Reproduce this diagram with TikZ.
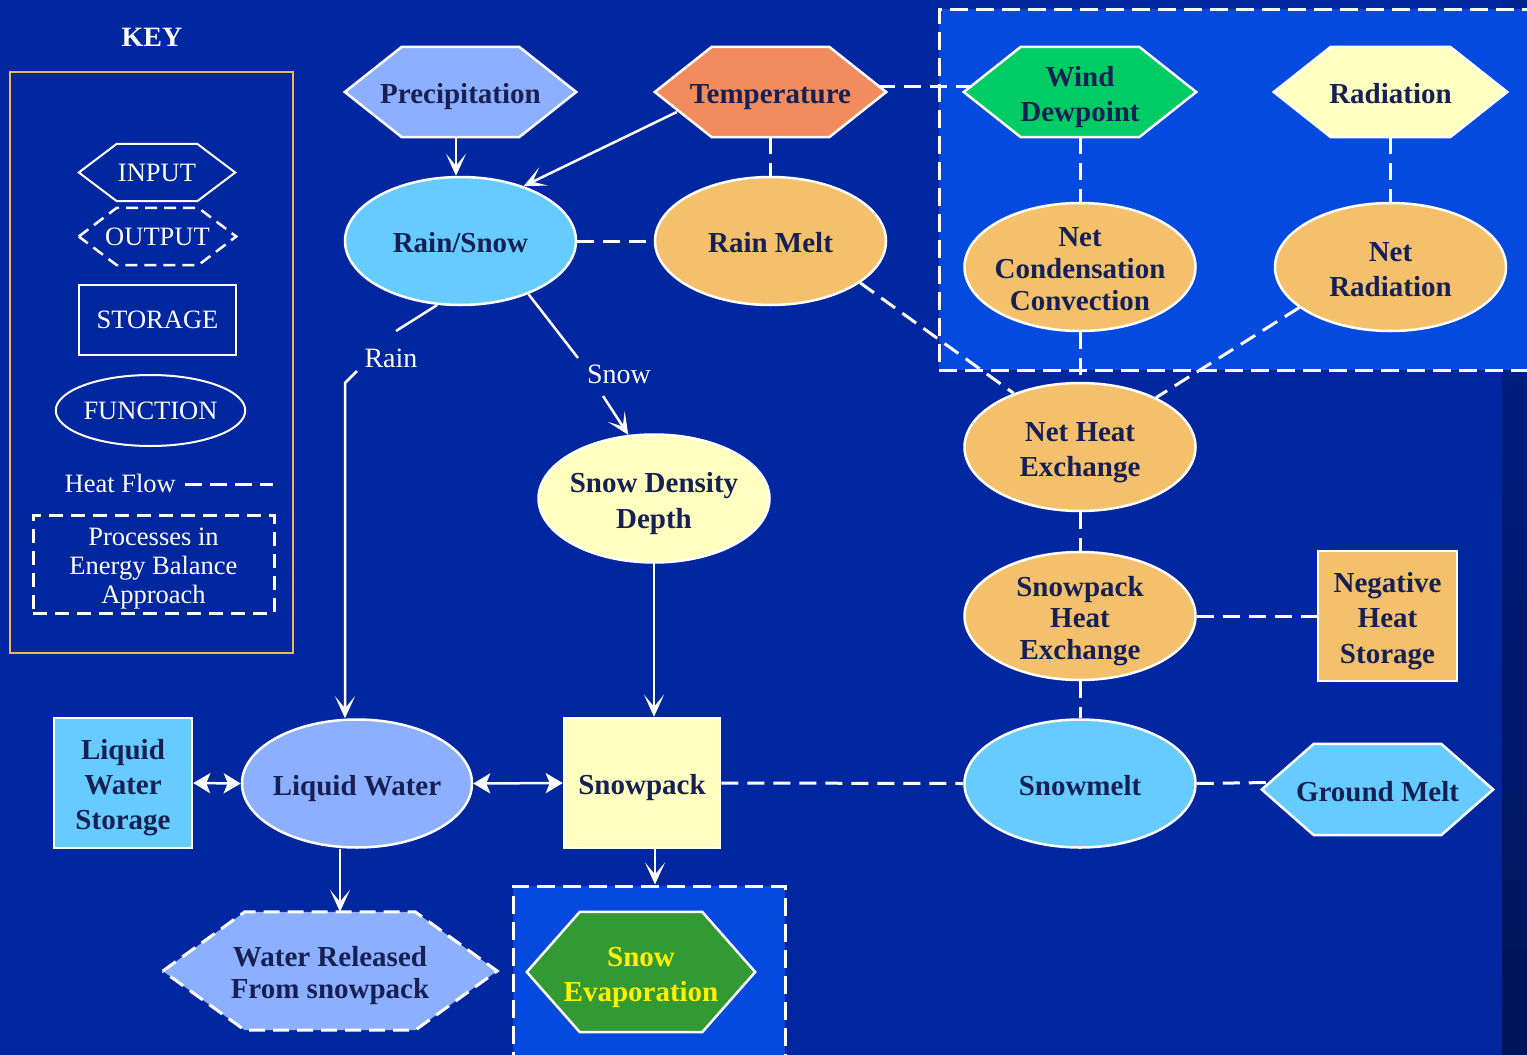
\documentclass[tikz,border=0pt]{standalone}
\usepackage{fontspec}
\setmainfont{Liberation Serif}
\usetikzlibrary{shapes.geometric,arrows.meta,calc}
\pgfdeclarelayer{bg}
\pgfdeclarelayer{mid}
\pgfsetlayers{bg,mid,main}
\definecolor{bgblue}{RGB}{0,38,160}
\definecolor{bright}{RGB}{4,74,222}
\definecolor{txt}{RGB}{22,32,84}
\definecolor{lblue}{RGB}{102,204,255}
\definecolor{periw}{RGB}{140,176,255}
\definecolor{orng}{RGB}{245,192,108}
\definecolor{salmon}{RGB}{242,140,94}
\definecolor{wgreen}{RGB}{0,204,102}
\definecolor{pyel}{RGB}{255,255,192}
\definecolor{dgreen}{RGB}{51,153,51}
\definecolor{keyline}{RGB}{245,180,96}
\definecolor{stripdark}{RGB}{0,20,90}
\newcommand\hexpath[3]{%
  \path[#3] (#1.west) -- ([xshift=#2pt]#1.north west) -- ([xshift=-#2pt]#1.north east)
    -- (#1.east) -- ([xshift=-#2pt]#1.south east) -- ([xshift=#2pt]#1.south west) -- cycle;}
\newcommand\Tx[1]{\rule{0pt}{31pt}#1\rule[-8pt]{0pt}{8pt}}
\tikzset{
  big/.style={font=\fontsize{29}{35}\selectfont\bfseries, text=txt, align=center},
  func/.style={big, ellipse, draw=white, line width=2.5pt, inner ysep=-12pt, inner xsep=-30pt,
    minimum width=231pt, minimum height=128pt},
  stor/.style={big, rectangle, draw=white, line width=2.5pt, inner sep=0pt},
  hexn/.style={big, rectangle, inner sep=0pt, minimum width=231pt, minimum height=90pt},
  hexline/.style={draw=white, line width=2.5pt},
  heat/.style={draw=white, line width=3pt, dash pattern=on 17pt off 9pt},
  arr/.style={draw=white, line width=2.5pt, -{Stealth[length=22pt,width=20pt,inset=12pt]}},
  darr/.style={draw=white, line width=2.5pt,
    {Stealth[length=17pt,width=20pt,inset=4pt]}-{Stealth[length=17pt,width=20pt,inset=4pt]}},
  keytxt/.style={font=\fontsize{26.5}{29}\selectfont, text=white, align=center},
  lbl/.style={font=\fontsize{28}{32}\selectfont, text=white},
  ebox/.style={fill=bright, draw=white, line width=3pt, dash pattern=on 18pt off 8pt,
    inner sep=0pt, rectangle},
}
\begin{document}
\begin{tikzpicture}[x=1pt,y=-1pt]
\useasboundingbox (0,0) rectangle (1527,1055);
\begin{pgfonlayer}{bg}
  \fill[bgblue] (0,0) rectangle (1527,1055);
  \shade[top color=bgblue!92!black, bottom color=stripdark] (1502,0) rectangle (1527,1055);
  \node[ebox, minimum width=601pt, minimum height=361pt] (topbox) at (1239.5,189.5) {};
  \node[ebox, minimum width=272pt, minimum height=174pt] (evbox) at (649,973) {};
\end{pgfonlayer}

% ---------- KEY ----------
\node[font=\fontsize{28}{32}\selectfont\bfseries, text=white] (key) at (152,37) {KEY};
\node[draw=keyline, line width=2pt, minimum width=283pt, minimum height=581pt, inner sep=0pt] (keybox) at (151.5,362.5) {};
\node[keytxt, minimum width=156pt, minimum height=57pt, inner sep=0pt] (kin) at (157,172.5) {INPUT};
\node[keytxt, minimum width=157pt, minimum height=57pt, inner sep=0pt] (kout) at (157.5,236.5) {OUTPUT};
\node[keytxt, draw=white, line width=2pt, minimum width=157pt, minimum height=70pt, inner sep=0pt] (kstor) at (157.5,320) {STORAGE};
\node[keytxt, ellipse, draw=white, line width=2pt, minimum width=171pt, minimum height=71pt, inner sep=0pt] (kfun) at (150.5,410.5) {FUNCTION};
\node[keytxt, anchor=east, inner sep=0pt] (kheat) at (176,483) {Heat Flow};
\coordinate (kheatend) at (273,484);
\draw[white, line width=3pt, dash pattern=on 17pt off 8pt] ([xshift=9pt,yshift=-1pt]kheat.east) -- (kheatend);
\node[keytxt, draw=white, line width=3pt, dash pattern=on 14pt off 8pt, minimum width=241pt, minimum height=98pt, inner sep=0pt] (kproc) at (153.5,564) {\rule{0pt}{26pt}Processes in\\Energy Balance\\Approach};
\begin{pgfonlayer}{mid}
  \hexpath{kin}{38}{hexline, line width=2pt}
  \hexpath{kout}{38}{hexline, line width=2.5pt, dash pattern=on 12pt off 7pt}
\end{pgfonlayer}

% ---------- inputs ----------
\node[hexn] (prec) at (460.5,92) {\Tx{Precipitation}};
\node[hexn] (temp) at (770.5,92) {\Tx{Temperature}};
\node[hexn, minimum width=232pt] (wind) at (1080,92) {\Tx{Wind\\Dewpoint}};
\node[hexn, minimum width=233pt] (radn) at (1390.5,92) {\Tx{Radiation}};
\node[hexn, minimum height=91pt] (gm) at (1377.5,789.5) {\Tx{Ground Melt}};
\node[hexn, minimum width=334pt, minimum height=118pt, font=\fontsize{29}{32}\selectfont\bfseries] (wr) at (330,971) {\Tx{Water Released\\From snowpack}};
\node[hexn, minimum width=228pt, minimum height=120pt, text=yellow] (evap) at (641,972) {\Tx{Snow\\Evaporation}};
\begin{pgfonlayer}{mid}
  \hexpath{prec}{57}{hexline, fill=periw}
  \hexpath{temp}{57}{hexline, fill=salmon}
  \hexpath{wind}{57}{hexline, fill=wgreen}
  \hexpath{radn}{57}{hexline, fill=pyel}
  \hexpath{gm}{52}{hexline, fill=lblue}
  \hexpath{wr}{82}{fill=periw, draw=white, line width=3pt, dash pattern=on 16pt off 8pt}
  \hexpath{evap}{53}{hexline, fill=dgreen}
\end{pgfonlayer}

% ---------- functions ----------
\node[func, fill=lblue] (rainsnow) at (460.5,241) {\Tx{Rain/Snow}};
\node[func, fill=orng] (rainmelt) at (770.5,241) {\Tx{Rain Melt}};
\node[func, fill=orng, font=\fontsize{29}{32}\selectfont\bfseries] (ncc) at (1080,267) {\Tx{Net\\Condensation\\Convection}};
\node[func, fill=orng] (nrad) at (1390.5,267) {\Tx{Net\\Radiation}};
\node[func, fill=orng] (nheat) at (1080,447) {\Tx{Net Heat\\Exchange}};
\node[func, fill=pyel, font=\fontsize{29}{36}\selectfont\bfseries] (sdd) at (654,498.5) {\Tx{Snow Density\\Depth}};
\node[func, fill=orng, font=\fontsize{29}{31.5}\selectfont\bfseries] (sphe) at (1080,616) {\Tx{Snowpack\\Heat\\Exchange}};
\node[func, fill=lblue] (smelt) at (1080,783.5) {\Tx{Snowmelt}};
\node[func, fill=periw, minimum width=230pt] (lw) at (357,783.5) {\Tx{Liquid Water}};

% ---------- storages ----------
\node[stor, fill=orng, minimum width=139pt, minimum height=130pt, font=\fontsize{29}{35.5}\selectfont\bfseries] (nhs) at (1387.5,616) {\Tx{Negative\\Heat\\Storage}};
\node[stor, fill=pyel, minimum width=156pt, minimum height=130pt] (spk) at (642,783) {\Tx{Snowpack}};
\node[stor, fill=lblue, minimum width=138pt, minimum height=130pt] (lws) at (123,783) {\Tx{Liquid\\Water\\Storage}};

% ---------- labels ----------
\node[lbl] (rainlbl) at (391,358) {Rain};
\node[lbl] (snowlbl) at (619,374) {Snow};
\coordinate (r1) at (396,331);
\coordinate (r2) at (357,371);
\coordinate (r3) at (345,383);
\coordinate (s1) at (578,358);
\coordinate (s2) at (603,396);

% ---------- solid flows ----------
\draw[arr] (prec.south -| 456,0) -- (rainsnow.north -| 456,0);
\draw[arr] ([xshift=22pt,yshift=-20pt]temp.west) -- (rainsnow.41);
\draw[white, line width=2.5pt] (rainsnow.-110) -- (r1);
\draw[arr] (r2) -- (r3) -- (r3 |- lw.north);
\draw[white, line width=2.5pt] (rainsnow.-38) -- (s1);
\draw[arr] (s2) -- (sdd.112);
\draw[arr] (sdd.south) -- (sdd.south |- spk.north);
\draw[darr] (lws.east) -- (lw.west);
\draw[darr] (lw.east) -- (spk.west);
\draw[arr] ([xshift=-17pt]lw.south) -- ([xshift=10pt]wr.north);
\draw[arr] ([xshift=13pt]spk.south) -- ([xshift=13pt]spk.south |- evbox.north);

% ---------- heat flows ----------
\draw[heat] ([xshift=-8pt,yshift=6pt]temp.east) -- ([xshift=8pt,yshift=6pt]wind.west);
\draw[heat] (temp.south) -- (rainmelt.north);
\draw[heat] (rainsnow.east) -- (rainmelt.west);
\draw[heat] (rainmelt.-25) -- (nheat.141);
\draw[heat] (wind.south) -- (ncc.north);
\draw[heat] (radn.south) -- (nrad.north);
\draw[heat] (ncc.south) -- (nheat.north);
\draw[heat] (nrad.-156) -- (nheat.33);
\draw[heat] (nheat.south) -- (sphe.north);
\draw[heat] (sphe.east) -- (nhs.west);
\draw[heat] (sphe.south) -- (smelt.north);
\draw[heat] (spk.east) -- (smelt.west);
\draw[heat] (smelt.east) -- ([xshift=8pt,yshift=7pt]gm.west);
\end{tikzpicture}
\end{document}
